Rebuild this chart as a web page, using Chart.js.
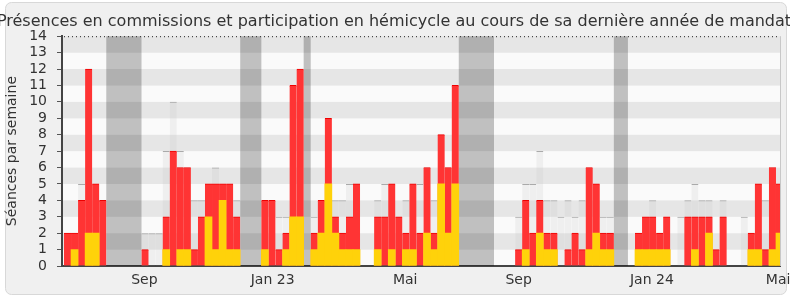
<!DOCTYPE html>
<html>
<head>
<meta charset="utf-8">
<script src="https://cdn.jsdelivr.net/npm/chart.js"></script>
<style>
  body { margin: 0; background: #fff; }
</style>
</head>
<body>
<canvas id="presences" width="790" height="300"></canvas>
<script>
// une valeur par semaine, de mi-juin 2022 à mai 2024 (102 semaines)
const hemicycle = [2, 2, 4, 12, 5, 4, 0, 0, 0, 0, 0, 1, 0, 0, 3, 7, 6, 6, 1, 3,
    5, 5, 5, 5, 3, 0, 0, 0, 4, 4, 1, 2, 11, 12, 0, 2, 4, 9, 3, 2,
    3, 5, 0, 0, 3, 3, 5, 3, 2, 5, 2, 6, 2, 8, 6, 11, 0, 0, 0, 0,
    0, 0, 0, 0, 1, 4, 2, 4, 2, 2, 0, 1, 2, 1, 6, 5, 2, 2, 0, 0,
    0, 2, 3, 3, 2, 3, 0, 0, 3, 3, 3, 3, 1, 3, 0, 0, 0, 2, 5, 1,
    6, 5];
const commission = [0, 1, 0, 2, 2, 0, 0, 0, 0, 0, 0, 0, 0, 0, 1, 0, 1, 1, 0, 0,
    3, 1, 4, 1, 1, 0, 0, 0, 1, 0, 0, 1, 3, 3, 0, 1, 2, 5, 2, 1,
    1, 1, 0, 0, 1, 0, 1, 0, 1, 1, 0, 2, 1, 5, 2, 5, 0, 0, 0, 0,
    0, 0, 0, 0, 0, 1, 0, 2, 1, 1, 0, 0, 0, 0, 1, 2, 1, 1, 0, 0,
    0, 1, 1, 1, 1, 1, 0, 0, 0, 1, 0, 2, 0, 0, 0, 0, 0, 1, 1, 0,
    1, 2];
// médiane des députés (barres grises claires)
const mediane = [0, 0, 5, 0, 0, 0, 0, 0, 0, 0, 0, 2, 2, 2, 7, 10, 7, 0, 4, 4,
    0, 6, 0, 0, 4, 0, 0, 0, 0, 0, 3, 3, 0, 0, 0, 3, 0, 0, 4, 4,
    5, 0, 0, 0, 4, 5, 0, 0, 4, 0, 5, 0, 4, 0, 0, 0, 0, 0, 0, 0,
    0, 0, 0, 0, 3, 5, 5, 7, 4, 4, 3, 4, 3, 4, 0, 0, 3, 3, 0, 0,
    0, 0, 0, 4, 0, 0, 0, 3, 4, 5, 4, 4, 0, 4, 0, 0, 3, 0, 0, 4,
    0, 0];
// vacances parlementaires : [première semaine, dernière semaine]
const vacances = [[6, 10], [25, 27], [34, 34], [56, 60], [78, 79]];
// étiquettes de mois et semaine où elles tombent
const moisLabels = ['Sep', 'Jan 23', 'Mai', 'Sep', 'Jan 24', 'Mai'];
const moisSemaine = [10.9, 29.1, 47.9, 64, 82.9, 100.8];

const police = { family: 'DejaVu Sans', size: 14 };
const pts = arr => arr.map((v, i) => ({ x: i, y: v || null }));

const fond = {
    id: 'fond',
    afterLayout(chart) {
        // le titre déborde du cadre comme sur l'original, sans être compressé
        chart.titleBlock.left = -26;
        chart.titleBlock.right = 814;
    },
    beforeDraw(chart) {
        const { ctx, chartArea: a, scales: { y } } = chart;
        ctx.save();
        ctx.fillStyle = '#fff';
        ctx.fillRect(0, 0, chart.width, chart.height);
        ctx.beginPath();
        ctx.roundRect(5.5, 2.5, 781, 292, 6);
        ctx.fillStyle = '#f0f0f0';
        ctx.fill();
        ctx.strokeStyle = '#d8d8d8';
        ctx.stroke();
        // bandes horizontales alternées
        for (let k = 0; k < y.max; k++) {
            const haut = y.getPixelForValue(k + 1), bas = y.getPixelForValue(k);
            ctx.fillStyle = k % 2 ? '#e6e6e6' : '#fafafa';
            ctx.fillRect(a.left, haut, a.right - a.left, bas - haut);
        }
        ctx.restore();
    },
    beforeDatasetsDraw(chart) {
        const { ctx, chartArea: a, scales: { x } } = chart;
        ctx.save();
        ctx.fillStyle = 'rgba(0,0,0,0.23)';
        vacances.forEach(([d, f]) => {
            const x0 = x.getPixelForValue(d - 0.5), x1 = x.getPixelForValue(f + 0.5);
            ctx.fillRect(x0, a.top, x1 - x0, a.bottom - a.top);
        });
        ctx.restore();
    },
    afterDraw(chart) {
        const { ctx, chartArea: a } = chart;
        ctx.save();
        ctx.strokeStyle = '#222';
        ctx.setLineDash([1, 3]);
        ctx.beginPath();
        ctx.moveTo(a.left + 2, a.top + 0.5);
        ctx.lineTo(a.right, a.top + 0.5);
        ctx.stroke();
        ctx.setLineDash([]);
        ctx.strokeStyle = '#c8c8c8';
        ctx.beginPath();
        ctx.moveTo(a.right + 0.5, a.top);
        ctx.lineTo(a.right + 0.5, a.bottom);
        ctx.stroke();
        ctx.restore();
    }
};

const barre = {
    grouped: false,
    barPercentage: 1,
    categoryPercentage: 1,
    borderSkipped: false
};

new Chart(document.getElementById('presences'), {
    type: 'bar',
    data: {
        datasets: [
            {
                ...barre,
                label: 'Présences en commission',
                data: pts(commission),
                backgroundColor: '#ffd20a',
                borderWidth: 0
            },
            {
                ...barre,
                label: 'Participation en hémicycle',
                data: pts(hemicycle),
                backgroundColor: '#ff3434',
                borderColor: '#ee0000',
                borderWidth: { top: 1, left: 0, right: 0, bottom: 0 }
            },
            {
                ...barre,
                label: 'Médiane',
                data: pts(mediane),
                backgroundColor: 'rgba(200,200,200,0.22)',
                borderColor: 'rgba(150,150,150,0.8)',
                borderWidth: { top: 1, left: 0, right: 0, bottom: 0 },
                inflateAmount: 0
            }
        ]
    },
    options: {
        responsive: false,
        animation: false,
        devicePixelRatio: 1,
        layout: { padding: { left: 0, right: 10, top: 0, bottom: 0 } },
        plugins: {
            legend: { display: false },
            tooltip: { enabled: false },
            title: {
                display: true,
                text: 'Présences en commissions et participation en hémicycle au cours de sa dernière année de mandat',
                font: { family: 'DejaVu Sans', size: 16, weight: 'normal' },
                color: '#333',
                padding: { top: 12, bottom: 5 }
            }
        },
        scales: {
            x: {
                type: 'linear',
                offset: false,
                bounds: 'data',
                min: -0.78,
                max: 101.07,
                afterBuildTicks: s => { s.ticks = moisSemaine.map(v => ({ value: v })); },
                afterFit: s => { s.height = 34; s.paddingLeft = 0; s.paddingRight = 0; },
                ticks: {
                    callback: (v, i) => moisLabels[i],
                    autoSkip: false,
                    maxRotation: 0,
                    padding: 6,
                    font: police,
                    color: '#333'
                },
                grid: { display: false, drawTicks: false },
                border: { display: true, color: '#444', width: 2 }
            },
            y: {
                min: 0,
                max: 14,
                afterFit: s => { s.width = 62; },
                ticks: { stepSize: 1, autoSkip: false, padding: 10, font: police, color: '#333' },
                grid: { drawOnChartArea: false, drawTicks: true, tickLength: 5, color: '#555' },
                border: { display: true, color: '#444', width: 2 },
                title: {
                    display: true,
                    text: 'Séances par semaine',
                    font: police,
                    color: '#333',
                    padding: { top: 4, bottom: 0 }
                }
            }
        }
    },
    plugins: [fond]
});
</script>
</body>
</html>
